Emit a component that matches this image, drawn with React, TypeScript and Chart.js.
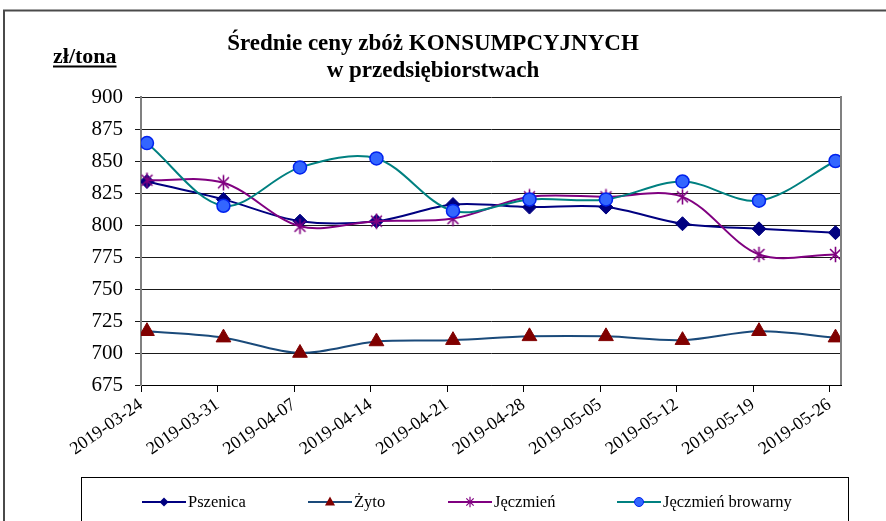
import React, { useEffect, useRef } from 'react';
import { Chart, registerables } from 'chart.js';

Chart.register(...registerables);

// ---------- data ----------
const dates = [
  '2019-03-24', '2019-03-31', '2019-04-07', '2019-04-14', '2019-04-21',
  '2019-04-28', '2019-05-05', '2019-05-12', '2019-05-19', '2019-05-26',
];
const pszenica = [834, 820, 803, 803, 816, 814, 814, 801, 797, 794];
const zyto = [717, 712, 700, 709, 710, 713, 713, 710, 717, 712];
const jeczmien = [835, 833, 799, 803, 805, 822, 822, 822, 777, 777];
const jeczmienBrowarny = [864, 815, 845, 852, 811, 820, 820, 834, 819, 850];
const seriesNames = ['Pszenica', 'Żyto', 'Jęczmień', 'Jęczmień browarny'];
const yMin = 675;
const yMax = 900;
const yStep = 25;
const titleLines = ['Średnie ceny zbóż KONSUMPCYJNYCH', 'w przedsiębiorstwach'];
const unitLabel = 'zł/tona';

const FONT = '"Liberation Serif", "Times New Roman", serif';

const COLORS = {
  pszenica: '#000080',
  zytoLine: '#1a4a7a',
  zytoMarker: '#800000',
  jeczmien: '#800080',
  browarnyLine: '#008080',
  browarnyFill: '#3366ff',
  browarnyBorder: '#0022ee',
};

function makeStar(size: number, color: string, lw: number) {
  const c = document.createElement('canvas');
  c.width = size;
  c.height = size;
  const g = c.getContext('2d')!;
  g.strokeStyle = color;
  g.lineWidth = lw;
  g.lineCap = 'butt';
  const m = size / 2;
  const r = size / 2 - 0.8;
  const d = r * Math.SQRT1_2;
  g.beginPath();
  g.moveTo(m, m - r);
  g.lineTo(m, m + r);
  g.moveTo(m - d, m - d);
  g.lineTo(m + d, m + d);
  g.moveTo(m + d, m - d);
  g.lineTo(m - d, m + d);
  g.stroke();
  return c;
}

const toXY = (arr: number[]) => arr.map((v, i) => ({ x: i, y: v }));

export default function App() {
  const ref = useRef<HTMLCanvasElement>(null);

  useEffect(() => {
    const canvas = ref.current;
    if (!canvas) return;

    const bigStar = makeStar(17, COLORS.jeczmien, 1.6);
    const smallStar = makeStar(12, COLORS.jeczmien, 1.2);

    const n = dates.length;
    // pixel step ~ 76.5 over 700px plot width; points offset ~6px right of ticks
    const span = 9.15;
    const dataMin = -0.078;

    const decor = {
      id: 'decor',
      beforeDraw(chart: any) {
        const ctx = chart.ctx;
        ctx.save();
        ctx.fillStyle = '#ffffff';
        ctx.fillRect(0, 0, chart.width, chart.height);
        ctx.restore();
      },
      afterDraw(chart: any) {
        const ctx = chart.ctx as CanvasRenderingContext2D;
        const ca = chart.chartArea;
        ctx.save();
        // right plot border
        ctx.strokeStyle = '#808080';
        ctx.lineWidth = 2;
        ctx.beginPath();
        ctx.moveTo(ca.right, ca.top - 1);
        ctx.lineTo(ca.right, ca.bottom);
        ctx.stroke();

        // outer frame (top + left)
        ctx.strokeStyle = '#4a4a4a';
        ctx.lineWidth = 2;
        ctx.beginPath();
        ctx.moveTo(4, 530);
        ctx.lineTo(4, 10.5);
        ctx.lineTo(890, 10.5);
        ctx.stroke();

        // title
        ctx.fillStyle = '#000';
        ctx.textAlign = 'center';
        ctx.textBaseline = 'alphabetic';
        ctx.font = `bold 23px ${FONT}`;
        ctx.fillText(titleLines[0], 433, 50);
        ctx.fillText(titleLines[1], 433, 77);

        // unit label
        ctx.textAlign = 'left';
        ctx.font = `bold 22px ${FONT}`;
        ctx.fillText(unitLabel, 53, 63);
        const w = ctx.measureText(unitLabel).width;
        ctx.fillRect(53, 65.5, w, 2);

        // legend box
        ctx.strokeStyle = '#000';
        ctx.lineWidth = 1;
        ctx.strokeRect(81.5, 477.5, 767, 60);

        const itemX = [142, 308, 448, 617];
        const ly = 502;
        const lineLen = 44;
        const lineColors = [COLORS.pszenica, COLORS.zytoLine, COLORS.jeczmien, COLORS.browarnyLine];
        ctx.font = `16.5px ${FONT}`;
        seriesNames.forEach((name, i) => {
          const x0 = itemX[i];
          ctx.strokeStyle = lineColors[i];
          ctx.lineWidth = 2;
          ctx.beginPath();
          ctx.moveTo(x0, ly);
          ctx.lineTo(x0 + lineLen, ly);
          ctx.stroke();
          const cx = x0 + lineLen / 2;
          if (i === 0) {
            ctx.fillStyle = COLORS.pszenica;
            ctx.beginPath();
            ctx.moveTo(cx, ly - 4.5);
            ctx.lineTo(cx + 4.5, ly);
            ctx.lineTo(cx, ly + 4.5);
            ctx.lineTo(cx - 4.5, ly);
            ctx.closePath();
            ctx.fill();
          } else if (i === 1) {
            ctx.fillStyle = COLORS.zytoMarker;
            ctx.beginPath();
            ctx.moveTo(cx, ly - 5.5);
            ctx.lineTo(cx + 5, ly + 3.5);
            ctx.lineTo(cx - 5, ly + 3.5);
            ctx.closePath();
            ctx.fill();
          } else if (i === 2) {
            ctx.drawImage(smallStar, cx - 6, ly - 6);
          } else {
            ctx.fillStyle = COLORS.browarnyFill;
            ctx.strokeStyle = COLORS.browarnyBorder;
            ctx.lineWidth = 1;
            ctx.beginPath();
            ctx.arc(cx, ly, 4.5, 0, Math.PI * 2);
            ctx.fill();
            ctx.stroke();
          }
          ctx.fillStyle = '#000';
          ctx.textAlign = 'left';
          ctx.fillText(name, x0 + lineLen + 2, 507);
        });
        ctx.restore();
      },
    };

    const chart = new Chart(canvas, {
      type: 'line',
      data: {
        datasets: [
          {
            label: seriesNames[0],
            data: toXY(pszenica),
            borderColor: COLORS.pszenica,
            backgroundColor: COLORS.pszenica,
            borderWidth: 2,
            pointStyle: 'rectRot',
            pointRadius: 7,
            pointBorderWidth: 1,
            pointBackgroundColor: COLORS.pszenica,
            pointBorderColor: COLORS.pszenica,
            tension: 0.33,
            order: 4,
          },
          {
            label: seriesNames[1],
            data: toXY(zyto),
            borderColor: COLORS.zytoLine,
            backgroundColor: COLORS.zytoMarker,
            borderWidth: 2,
            pointStyle: 'triangle',
            pointRadius: 8.5,
            pointBorderWidth: 1,
            pointBackgroundColor: COLORS.zytoMarker,
            pointBorderColor: COLORS.zytoMarker,
            tension: 0.33,
            order: 3,
          },
          {
            label: seriesNames[2],
            data: toXY(jeczmien),
            borderColor: COLORS.jeczmien,
            backgroundColor: COLORS.jeczmien,
            borderWidth: 2,
            pointStyle: bigStar as any,
            pointRadius: 8,
            tension: 0.33,
            order: 2,
          },
          {
            label: seriesNames[3],
            data: toXY(jeczmienBrowarny),
            borderColor: COLORS.browarnyLine,
            backgroundColor: COLORS.browarnyFill,
            borderWidth: 2,
            pointStyle: 'circle',
            pointRadius: 6.5,
            pointBorderWidth: 1.5,
            pointBackgroundColor: COLORS.browarnyFill,
            pointBorderColor: COLORS.browarnyBorder,
            tension: 0.33,
            order: 1,
          },
        ],
      },
      options: {
        responsive: false,
        maintainAspectRatio: false,
        animation: false,
        devicePixelRatio: 1,
        layout: { padding: { left: 0, right: 45, top: 97, bottom: 56 } },
        plugins: {
          legend: { display: false },
          title: { display: false },
          tooltip: { enabled: false },
        },
        scales: {
          x: {
            type: 'linear',
            display: false,
            min: dataMin,
            max: dataMin + span,
          },
          xt: {
            type: 'linear',
            position: 'bottom',
            min: 0,
            max: span,
            grid: {
              drawOnChartArea: false,
              drawTicks: true,
              tickLength: 7,
              color: '#000',
              lineWidth: 1,
            },
            border: { display: true, color: '#000', width: 1 },
            ticks: {
              stepSize: 1,
              includeBounds: false,
              autoSkip: false,
              minRotation: 35,
              maxRotation: 35,
              padding: 2,
              color: '#000',
              font: { family: FONT, size: 18 },
              callback: (v: any) => (Number.isInteger(v) && v < n ? dates[v] : ''),
            },
            afterFit: (s: any) => {
              s.height = 80;
            },
          },
          y: {
            type: 'linear',
            min: yMin,
            max: yMax,
            ticks: {
              stepSize: yStep,
              padding: 12,
              color: '#000',
              font: { family: FONT, size: 21 },
            },
            grid: {
              color: '#1a1a1a',
              lineWidth: 1,
              drawTicks: true,
              tickLength: 6,
            },
            border: { display: true, color: '#808080', width: 2 },
            afterFit: (s: any) => {
              s.width = 141;
            },
          },
        },
      },
      plugins: [decor],
    } as any);

    return () => chart.destroy();
  }, []);

  return (
    <div style={{ position: 'absolute', left: 0, top: 0, width: 886, height: 521, background: '#fff' }}>
      <canvas ref={ref} width={886} height={521} style={{ display: 'block', width: 886, height: 521 }} />
    </div>
  );
}
